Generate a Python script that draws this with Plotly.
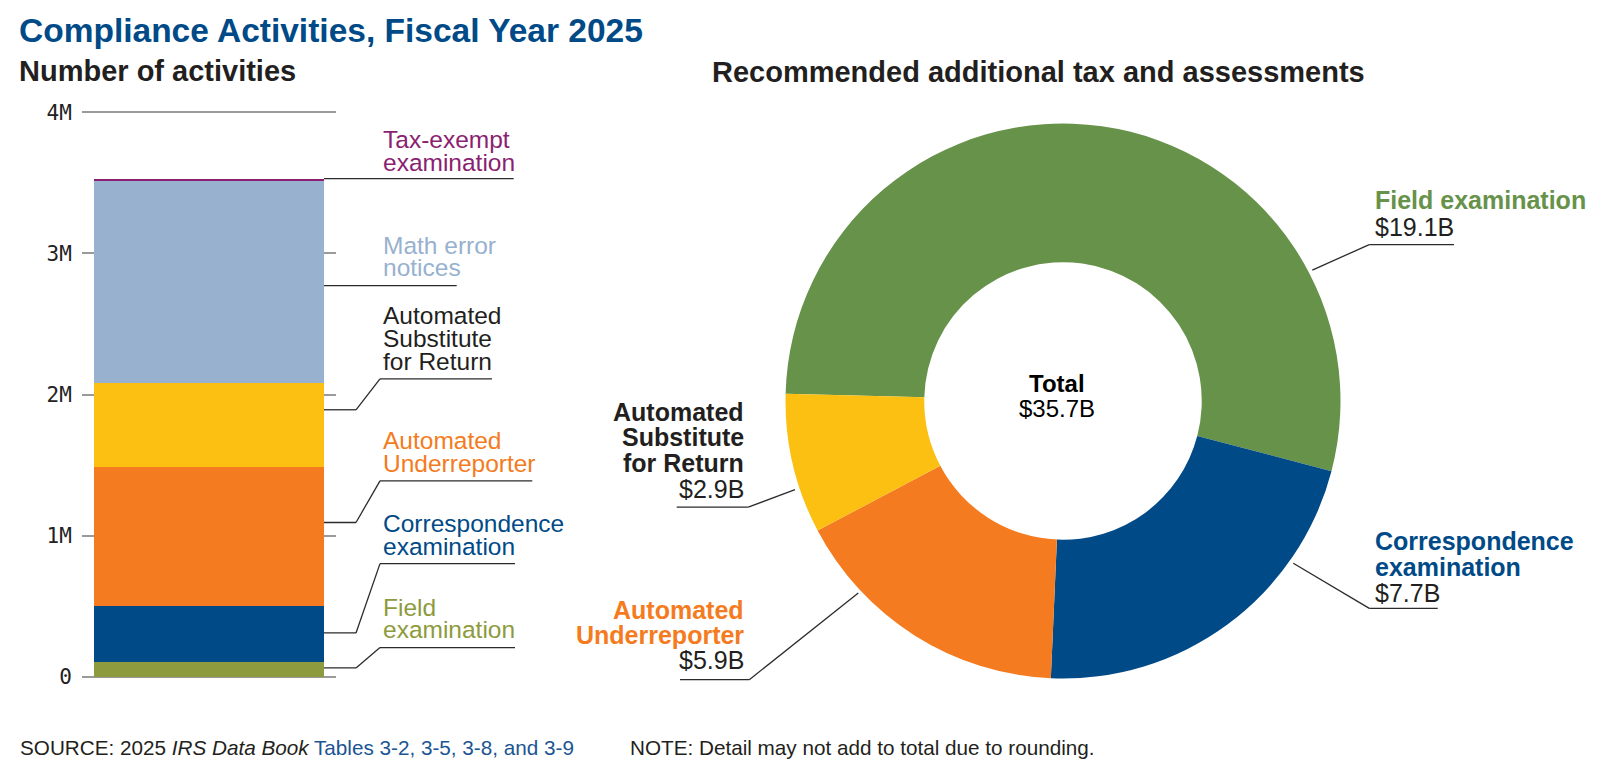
import plotly.graph_objects as go

W, H = 1605, 771
FONT = "Arial, Liberation Sans, Helvetica, sans-serif"
MONO = "DejaVu Sans Mono, monospace"

# ---------------- data ----------------
# Left: number of compliance activities (millions), stacked bottom -> top
act_names = ["Field examination", "Correspondence examination", "Automated Underreporter",
             "Automated Substitute for Return", "Math error notices", "Tax-exempt examination"]
act_values = [0.104, 0.400, 0.984, 0.595, 1.435, 0.012]
ytick_vals = [0, 1, 2, 3, 4]
ytick_text = ["0", "1M", "2M", "3M", "4M"]

# Right: recommended additional tax and assessments ($ billions)
pie_names = ["Field examination", "Correspondence examination", "Automated Underreporter",
             "Automated Substitute for Return"]
pie_values = [19.1, 7.7, 5.9, 2.9]
pie_total = 35.7

# ---------------- styles ----------------
NAVY = "#004A87"
TXT = "#231F20"
act_colors = ["#8E9A3E", NAVY, "#F47B20", "#FBC012", "#97B1CF", "#8B1F72"]
act_label_colors = ["#8D9B3C", NAVY, "#F47B20", TXT, "#97B1CF", "#8B1F72"]
pie_colors = ["#67924A", NAVY, "#F47B20", "#FBC012"]
pie_label_colors = ["#67924A", NAVY, "#F47B20", TXT]
LEAD = "#2b2b2b"


def px(x):
    return x / W


def py(y):
    return 1 - y / H


annotations = []
shapes = []


def txt(x, base, s, size, color, bold=False, anchor="left"):
    t = f"<b>{s}</b>" if bold else s
    annotations.append(dict(x=px(x), y=py(base - 0.35 * size), xref="paper", yref="paper",
                            text=t, showarrow=False, xanchor=anchor, yanchor="middle",
                            borderpad=0, font=dict(family=FONT, size=size, color=color)))


def seg(x0, y0, x1, y1, color=LEAD, w=1.3, yref="paper"):
    if yref == "paper":
        y0, y1 = py(y0), py(y1)
    shapes.append(dict(type="line", xref="paper", yref=yref, x0=px(x0), y0=y0,
                       x1=px(x1), y1=y1, line=dict(color=color, width=w)))


fig = go.Figure()

# ---------------- left stacked bar ----------------
for name, v, c in zip(act_names, act_values, act_colors):
    fig.add_trace(go.Bar(x=[0], y=[v], name=name, width=0.906, marker=dict(color=c, line=dict(width=0)),
                         showlegend=False, hovertemplate=name + ": %{y:.2f}M<extra></extra>",
                         xaxis="x", yaxis="y"))

ZERO_PX, PPM = 683.3, 144.0
y_lo, y_hi = -0.03, 4.03
dom_y = [py(ZERO_PX - y_lo * PPM), py(ZERO_PX - y_hi * PPM)]


def ypx_to_val(ypx):
    return (ZERO_PX - ypx) / PPM


# cumulative positions
bottoms = []
acc = 0
for v in act_values:
    bottoms.append(acc)
    acc += v

BAR_R = 324
# (anchor fraction within segment, underline px y or None for straight, line end x, lines, baselines)
left_labels = [
    (0.62, 653.3, 515, ["Field", "examination"], [620.7, 643.3]),
    (0.52, 567.7, 515, ["Correspondence", "examination"], [535.0, 558.3]),
    (0.60, 483.3, 532.3, ["Automated", "Underreporter"], [450.7, 474.0]),
    (0.68, 379.3, 492, ["Automated", "Substitute", "for Return"], [322.7, 346.3, 370.0]),
    (0.48, None, 456.7, ["Math error", "notices"], [251.7, 274.0]),
    (1.00, None, 513.7, ["Tax-exempt", "examination"], [143.3, 166.7]),
]
for i, (frac, ul, xend, lines, bases) in enumerate(left_labels):
    a_val = bottoms[i] + frac * act_values[i]
    if ul is None:
        seg(BAR_R, a_val, xend, a_val, yref="y")
    else:
        u_val = ypx_to_val(ul)
        seg(BAR_R, a_val, 356, a_val, yref="y")
        seg(356, a_val, 380, u_val, yref="y")
        seg(380, u_val, xend, u_val, yref="y")
    for ln, b in zip(lines, bases):
        txt(382, b, ln, 24.5, act_label_colors[i])

# ---------------- donut ----------------
CX, CY, R = 1063, 401.8, 283
fig.add_trace(go.Pie(values=pie_values, labels=pie_names, hole=0.5, sort=False,
                     direction="clockwise", rotation=-88.5,
                     marker=dict(colors=pie_colors, line=dict(width=0)),
                     textinfo="none", showlegend=False,
                     hovertemplate="%{label}: $%{value}B<extra></extra>",
                     domain=dict(x=[px(CX - R), px(CX + R)], y=[py(CY + R), py(CY - R)])))

vals_txt = [f"${v:.1f}B" for v in pie_values]
# Field examination
txt(1374, 206.0, "Field examination", 25, pie_label_colors[0], bold=True)
txt(1374, 232.7, vals_txt[0], 25, TXT)
seg(1369.3, 242.3, 1454, 242.3)
seg(1312.3, 268.3, 1369.3, 242.3)
# Correspondence examination
txt(1374, 553.3, "Correspondence", 25, pie_label_colors[1], bold=True)
txt(1374, 580.0, "examination", 25, pie_label_colors[1], bold=True)
txt(1374, 606.0, vals_txt[1], 25, TXT)
seg(1369.3, 613.3, 1437.7, 613.3)
seg(1293.3, 567.3, 1369.3, 613.3)
# Automated Underreporter
txt(745, 623.3, "Automated", 25, pie_label_colors[2], bold=True, anchor="right")
txt(745, 649.3, "Underreporter", 25, pie_label_colors[2], bold=True, anchor="right")
txt(745, 675.0, vals_txt[2], 25, TXT, anchor="right")
seg(680, 686, 749.3, 686)
seg(749.3, 686, 858.3, 597.7)
# Automated Substitute for Return
txt(745, 421.7, "Automated", 25, pie_label_colors[3], bold=True, anchor="right")
txt(745, 447.7, "Substitute", 25, pie_label_colors[3], bold=True, anchor="right")
txt(745, 474.3, "for Return", 25, pie_label_colors[3], bold=True, anchor="right")
txt(745, 500.0, vals_txt[3], 25, TXT, anchor="right")
seg(676.7, 510, 748.3, 510)
seg(748.3, 510, 795, 492.3)
# centre
txt(1057, 392.7, "Total", 24, "#000000", bold=True, anchor="center")
txt(1057, 418.3, f"${pie_total:.1f}B", 24, "#000000", anchor="center")

# ---------------- titles & footer ----------------
txt(18, 35.8, "Compliance Activities, Fiscal Year 2025", 33.5, NAVY, bold=True)
txt(18, 75.7, "Number of activities", 29, TXT, bold=True)
txt(711, 76.8, "Recommended additional tax and assessments", 29, TXT, bold=True)
txt(19, 762, "SOURCE: 2025 <i>IRS Data Book</i> <span style='color:#1B5593'>Tables 3-2, 3-5, 3-8, and 3-9</span>",
    20.7, TXT)
txt(629, 762, "NOTE: Detail may not add to total due to rounding.", 20.7, TXT)

fig.update_layout(
    width=W, height=H, margin=dict(l=0, r=0, t=0, b=0),
    paper_bgcolor="white", plot_bgcolor="rgba(0,0,0,0)",
    barmode="stack", bargap=0,
    xaxis=dict(domain=[px(82), px(336)], range=[-0.5, 0.5], showgrid=False, zeroline=False,
               showticklabels=False, showline=False, fixedrange=True),
    yaxis=dict(domain=dom_y, range=[y_lo, y_hi], tickvals=ytick_vals, ticktext=ytick_text,
               showgrid=True, gridcolor="#9A9A9A", gridwidth=2, zeroline=False, showline=False,
               ticks="outside", ticklen=5, tickcolor="rgba(0,0,0,0)",
               tickfont=dict(family=MONO, size=21, color="#222222"), fixedrange=True),
    annotations=annotations, shapes=shapes,
    font=dict(family=FONT),
)

fig.write_html("out.html")
